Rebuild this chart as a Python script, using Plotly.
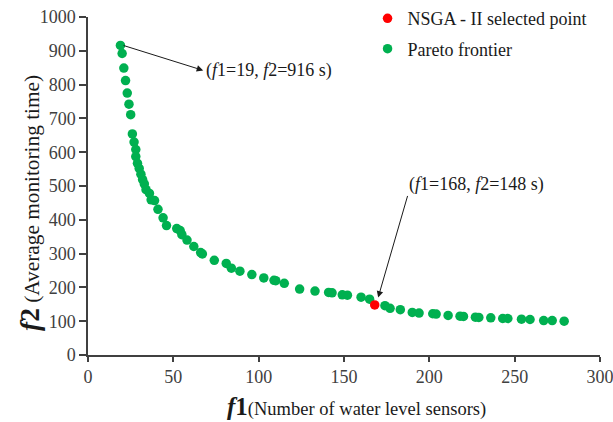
import plotly.graph_objects as go

# Pareto frontier data (f1 = number of sensors, f2 = average monitoring time)
pareto_f1 = [19, 20, 21, 22, 23, 24, 25, 26, 27, 28, 28, 29, 30, 31, 32, 33, 34, 36, 37, 39,
             41, 44, 46, 52, 54, 55, 58, 62, 66, 67, 74, 81, 84, 89, 96, 103, 109, 110, 115,
             124, 133, 141, 143, 149, 152, 160, 165, 174, 177, 183, 190, 194, 202, 204, 211,
             218, 220, 227, 229, 236, 243, 246, 254, 259, 267, 272, 279]
pareto_f2 = [916, 892, 849, 812, 775, 742, 711, 654, 630, 608, 587, 567, 552, 535, 519, 506,
             489, 478, 459, 457, 431, 406, 383, 374, 368, 356, 340, 321, 303, 299, 280, 271,
             257, 248, 238, 228, 221, 220, 212, 195, 189, 185, 184, 178, 177, 171, 165, 146,
             138, 134, 126, 124, 122, 121, 117, 115, 114, 112, 111, 110, 108, 108, 106, 105,
             102, 102, 100]

selected_f1 = [168]
selected_f2 = [148]

x_ticks = [0, 50, 100, 150, 200, 250, 300]
y_ticks = [0, 100, 200, 300, 400, 500, 600, 700, 800, 900, 1000]

SERIF = "Liberation Serif, Times New Roman, serif"
GREEN = "#00B050"
RED = "#FF0000"
TXT = "#1a1a1a"

fig = go.Figure()
fig.add_trace(go.Scatter(
    x=pareto_f1, y=pareto_f2, mode="markers", name="Pareto frontier",
    marker=dict(color=GREEN, size=9.5), legendgroup="b", legendrank=2))
fig.add_trace(go.Scatter(
    x=selected_f1, y=selected_f2, mode="markers", name="NSGA - II selected point",
    marker=dict(color=RED, size=9.5), legendgroup="a", legendrank=1))

fig.update_layout(
    width=613, height=422,
    margin=dict(l=88, r=13, t=17, b=67, autoexpand=False),
    paper_bgcolor="white", plot_bgcolor="white",
    font=dict(family=SERIF, color=TXT, size=18),
    legend=dict(x=0.546, y=1.05, xref="paper", yref="paper", xanchor="left", yanchor="top",
                traceorder="grouped", tracegroupgap=4,
                font=dict(family=SERIF, size=18, color=TXT),
                bgcolor="rgba(0,0,0,0)", itemwidth=30),
    xaxis=dict(range=[0, 300], tickvals=x_ticks, showline=True, linecolor="#404040",
               linewidth=1.5, ticks="outside", ticklen=5, tickcolor="#404040", tickwidth=1.5,
               showgrid=False, zeroline=False, automargin=False, ticklabeloverflow="allow",
               tickfont=dict(family=SERIF, size=18, color="#404040")),
    yaxis=dict(range=[0, 1000], tickvals=y_ticks, showline=True, linecolor="#404040",
               linewidth=1.5, ticks="outside", ticklen=7, tickcolor="#404040", tickwidth=1.5,
               showgrid=False, zeroline=False, automargin=False, ticklabeloverflow="allow",
               tickfont=dict(family=SERIF, size=18, color="#404040")),
)

# axis titles
fig.add_annotation(x=0.525, y=-0.153, xref="paper", yref="paper", xanchor="center",
                   yanchor="middle", showarrow=False,
                   text="<b><i>f</i>1</b><span style='font-size:18.5px'>(Number of water level sensors)</span>",
                   font=dict(family=SERIF, size=25, color=TXT))
fig.add_annotation(x=-0.113, y=0.45, xref="paper", yref="paper", xanchor="center",
                   yanchor="middle", showarrow=False, textangle=-90,
                   text="<b><i>f</i>2</b><span style='font-size:21.3px'> (Average monitoring time)</span>",
                   font=dict(family=SERIF, size=27.5, color=TXT))

# arrows (arrowhead at the text side)
fig.add_annotation(x=67.5, y=842, ax=20, ay=917, xref="x", yref="y", axref="x", ayref="y",
                   text="", showarrow=True, arrowhead=2, arrowsize=1.3, arrowwidth=1,
                   arrowcolor=TXT)
fig.add_annotation(x=170, y=170, ax=187.5, ay=475, xref="x", yref="y", axref="x", ayref="y",
                   text="", showarrow=True, arrowhead=2, arrowsize=1.3, arrowwidth=1,
                   arrowcolor=TXT)
# labels
fig.add_annotation(x=68, y=842, xref="x", yref="y", xanchor="left", yanchor="middle",
                   text="(<i>f</i>1=19, <i>f</i>2=916 s)", showarrow=False,
                   font=dict(family=SERIF, size=18, color=TXT))
fig.add_annotation(x=187, y=505, xref="x", yref="y", xanchor="left", yanchor="middle",
                   text="(<i>f</i>1=168, <i>f</i>2=148 s)", showarrow=False,
                   font=dict(family=SERIF, size=18, color=TXT))

fig.write_html("out.html", config={"displayModeBar": False},
               post_script="document.body.style.margin='0';document.body.style.padding='0';")
